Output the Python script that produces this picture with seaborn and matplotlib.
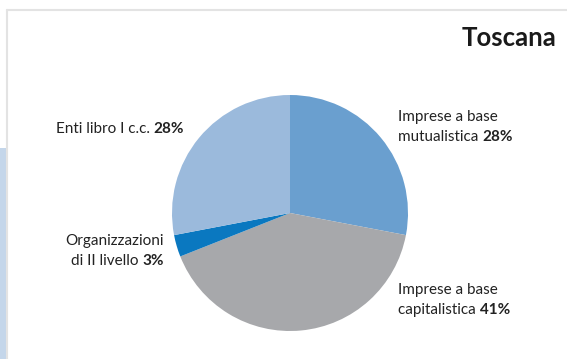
import matplotlib
matplotlib.use("Agg")
import matplotlib.pyplot as plt
import seaborn as sns
from matplotlib.offsetbox import TextArea, HPacker, VPacker, AnnotationBbox
from matplotlib.patches import Rectangle
from matplotlib.lines import Line2D

# Data
title = "Toscana"
categories = ["Imprese a base\nmutualistica", "Imprese a base\ncapitalistica",
              "Organizzazioni\ndi II livello", "Enti libro I c.c."]
shares = [28, 41, 3, 28]
colors = ["#6a9fcf", "#a7a8ab", "#0a78c0", "#9bbadc"]

sns.set_style("white")
plt.rcParams["font.family"] = ["Lato", "DejaVu Sans"]

W, H = 567, 359
fig = plt.figure(figsize=(W / 100, H / 100), dpi=100)
fig.patch.set_facecolor("white")

# frame decorations
fig.add_artist(Line2D([7 / W, 1], [1 - 10 / H, 1 - 10 / H], color="#e3e3e3", lw=1.5,
                      transform=fig.transFigure))
fig.add_artist(Line2D([7 / W, 7 / W], [0, 1 - 10 / H], color="#e3e3e3", lw=1.5,
                      transform=fig.transFigure))
fig.add_artist(Rectangle((0, 0), 6 / W, (H - 148) / H, color="#c4d6ea",
                         transform=fig.transFigure, lw=0))

# pie axes
cx, cy, r = 290, 359 - 213, 118
ax = fig.add_axes([(cx - r) / W, (cy - r) / H, 2 * r / W, 2 * r / H])
ax.pie(shares, colors=colors, startangle=90, counterclock=False, radius=1,
       wedgeprops=dict(linewidth=0))
ax.set_xlim(-1, 1)
ax.set_ylim(-1, 1)
ax.set_aspect("equal")
ax.axis("off")

fig.text(556 / W, 1 - 38 / H, title, ha="right", va="center", fontsize=18.5,
         fontweight="bold", color="#1a1a1a")

FS = 11
TXT = "#222222"


def label(lines, value, x, y, align, box_alignment):
    rows = []
    for i, line in enumerate(lines):
        if i == len(lines) - 1:
            row = HPacker(children=[
                TextArea(line + " ", textprops=dict(fontsize=FS, color=TXT)),
                TextArea(f"{value}%", textprops=dict(fontsize=FS, color=TXT, fontweight="bold")),
            ], pad=0, sep=0, align="baseline")
        else:
            row = TextArea(line, textprops=dict(fontsize=FS, color=TXT))
        rows.append(row)
    box = VPacker(children=rows, pad=0, sep=4, align=align)
    ab = AnnotationBbox(box, (x / W, 1 - y / H), xycoords="figure fraction",
                        box_alignment=box_alignment, frameon=False, pad=0)
    fig.add_artist(ab)


label(categories[0].split("\n"), shares[0], 398, 127, "left", (0, 0.5))
label(categories[1].split("\n"), shares[1], 398, 300, "left", (0, 0.5))
label(categories[2].split("\n"), shares[2], 164, 251, "right", (1, 0.5))
label(categories[3].split("\n"), shares[3], 184, 129, "right", (1, 0.5))

fig.savefig("out.png", dpi=100, facecolor="white")
